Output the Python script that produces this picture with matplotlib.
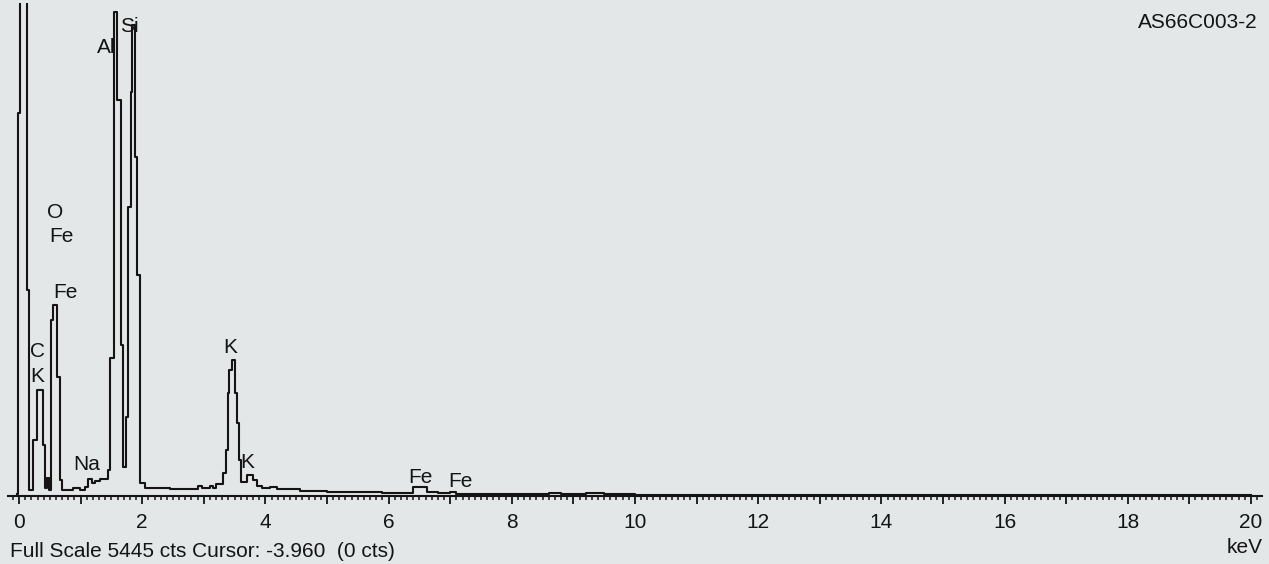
import matplotlib
matplotlib.use("Agg")
import matplotlib.pyplot as plt
from matplotlib.ticker import MultipleLocator, FuncFormatter

plt.rcParams['font.family'] = ['Liberation Sans', 'DejaVu Sans']

# EDS spectrum, stepped trace: channel start energy (keV) and counts
energy_kev = [-0.03, -0.016, 0.016, 0.13, 0.17, 0.227, 0.292, 0.39, 0.422, 0.455,
              0.487, 0.52, 0.552, 0.617, 0.666, 0.698, 0.877, 0.99, 1.07, 1.12,
              1.185, 1.234, 1.315, 1.445, 1.477, 1.534, 1.591, 1.656, 1.696, 1.737,
              1.774, 1.813, 1.83, 1.883, 1.92, 1.964, 2.045, 2.45, 2.906, 2.97,
              3.1, 3.149, 3.198, 3.312, 3.36, 3.385, 3.417, 3.458, 3.506, 3.539,
              3.571, 3.604, 3.7, 3.8, 3.86, 3.94, 4.07, 4.19, 4.56, 5.0,
              5.9, 6.05, 6.4, 6.62, 6.8, 7.0, 7.1, 8.0, 8.6, 8.8,
              9.2, 9.5, 10.0, 20.0]
counts = [20, 4228, 7000, 2274, 66, 618, 1170, 563, 88, 199,
          66, 1943, 2109, 1314, 177, 66, 88, 66, 99, 188,
          144, 166, 188, 287, 1524, 5343, 4372, 1667, 320, 872,
          3191, 4460, 5200, 3743, 2440, 144, 88, 77, 110, 88,
          110, 88, 130, 254, 508, 1137, 1391, 1501, 1137, 806,
          397, 155, 232, 177, 110, 88, 99, 77, 55, 44,
          33, 33, 99, 44, 33, 44, 22, 22, 33, 22,
          33, 22, 15, 15]
full_scale = 5445

# element markers (text, keV, counts at baseline of text)
peak_names = ["O", "Fe", "Fe", "C", "K", "Na", "Al", "Si", "K", "K", "Fe", "Fe"]
peak_kev = [0.584, 0.682, 0.747, 0.292, 0.292, 1.104, 1.41, 1.79, 3.425, 3.70, 6.51, 7.16]
peak_cts = [3069, 2804, 2186, 1535, 1259, 287, 4891, 5127, 1579, 309, 144, 99]

tick_values = list(range(0, 21, 2))
tick_labels = [str(v) for v in tick_values]

bg = '#e4e7e7'
ink = '#141414'

fig = plt.figure(figsize=(12.69, 5.64), dpi=100, facecolor=bg)
ax = fig.add_axes([8 / 1269, 1 - 496 / 564, 1254 / 1269, 493 / 564])
ax.set_facecolor(bg)

ax.plot(energy_kev, counts, drawstyle='steps-post', color=ink, lw=1.5, zorder=2)

ax.set_xlim(-0.179, 20.18)
ax.set_ylim(0, full_scale)

for side in ('left', 'right', 'top'):
    ax.spines[side].set_visible(False)
ax.spines['bottom'].set_color(ink)
ax.spines['bottom'].set_linewidth(1.5)
ax.set_yticks([])

ax.xaxis.set_major_locator(MultipleLocator(1))
ax.xaxis.set_minor_locator(MultipleLocator(0.1))
ax.xaxis.set_major_formatter(FuncFormatter(
    lambda v, p: tick_labels[tick_values.index(int(round(v)))] if int(round(v)) in tick_values else ''))
ax.tick_params(axis='x', which='major', direction='out', length=5.5, width=1.3,
               color=ink, pad=6.5, labelsize=15, labelcolor=ink)
ax.tick_params(axis='x', which='minor', direction='out', length=2.8, width=1.1, color=ink)

for name, e, c in zip(peak_names, peak_kev, peak_cts):
    ax.text(e, c, name, ha='center', va='baseline', fontsize=15, color=ink,
            clip_on=False, zorder=3)

fig.text(10 / 1269, 1 - 557 / 564, "Full Scale 5445 cts Cursor: -3.960  (0 cts)",
         ha='left', va='baseline', fontsize=15, color=ink)
fig.text(1263 / 1269, 1 - 553 / 564, "keV", ha='right', va='baseline', fontsize=15, color=ink)
fig.text(1258 / 1269, 1 - 28 / 564, "AS66C003-2", ha='right', va='baseline', fontsize=15, color=ink)

fig.savefig('out.png', dpi=100, facecolor=bg)
